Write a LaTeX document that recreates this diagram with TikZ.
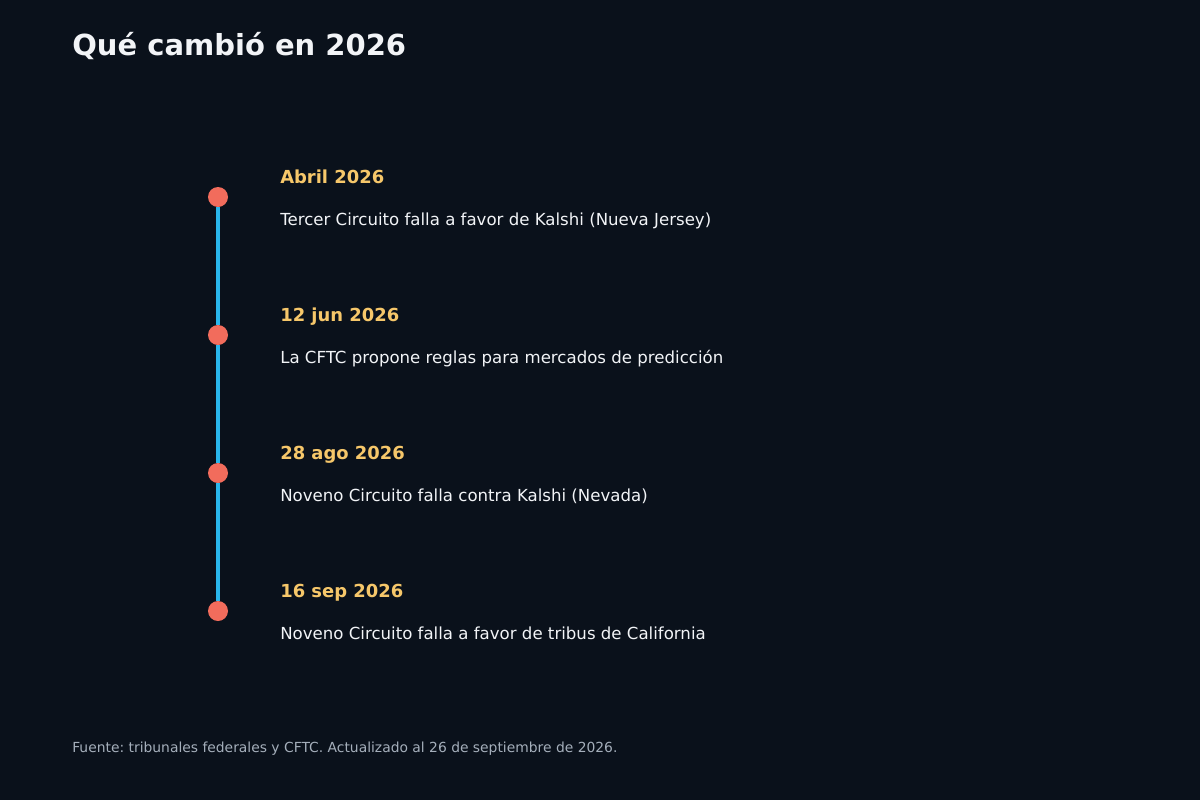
\documentclass[tikz,border=0pt]{standalone}
\usepackage{fontspec}
\setmainfont{DejaVu Sans}
\frenchspacing
\usetikzlibrary{positioning}
\definecolor{bgnavy}{RGB}{10,17,27}
\definecolor{titlewhite}{RGB}{242,244,247}
\definecolor{dategold}{RGB}{246,199,106}
\definecolor{dotsalmon}{RGB}{242,108,92}
\definecolor{linecyan}{RGB}{41,182,236}
\definecolor{notegray}{RGB}{165,175,187}

\begin{document}
\begin{tikzpicture}[x=0.75pt, y=-0.75pt,
    datelabel/.style={anchor=base west, inner sep=0pt, text=dategold, font=\fontsize{13.45}{16}\selectfont\bfseries},
    desclabel/.style={anchor=base west, inner sep=0pt, text=titlewhite, font=\fontsize{12.45}{15}\selectfont},
    eventdot/.style={circle, fill=dotsalmon, minimum size=15pt, inner sep=0pt},
    timeline/.style={linecyan, line width=2.4pt}]
        % background
        \fill[bgnavy] (0,0) rectangle (1200,800);
        \useasboundingbox (0,0) rectangle (1200,800);

        % Title
        \node[anchor=base west, inner sep=0pt, text=titlewhite, font=\fontsize{21.75}{26}\selectfont\bfseries] (title) at (72,55.5) {Qué cambió en 2026};

        % timeline dots
        \node[eventdot] (abr) at (218,197) {};
        \node[eventdot] (jun) at (218,335) {};
        \node[eventdot] (ago) at (218,473) {};
        \node[eventdot] (sep) at (218,611) {};

        % timeline line
        \draw[timeline] (abr) -- (jun);
        \draw[timeline] (jun) -- (ago);
        \draw[timeline] (ago) -- (sep);

        % dates and events
        \node[datelabel] (abrdate) at (280,183.5) {Abril 2026};
        \node[desclabel] (abrtext) at (280,225) {Tercer Circuito falla a favor de Kalshi (Nueva Jersey)};

        \node[datelabel] (jundate) at (280,321.5) {12 jun 2026};
        \node[desclabel] (juntext) at (280,363) {La CFTC propone reglas para mercados de predicción};

        \node[datelabel] (agodate) at (280,459.5) {28 ago 2026};
        \node[desclabel] (agotext) at (280,501) {Noveno Circuito falla contra Kalshi (Nevada)};

        \node[datelabel] (sepdate) at (280,597.5) {16 sep 2026};
        \node[desclabel] (septext) at (280,639) {Noveno Circuito falla a favor de tribus de California};

        % source note
        \node[anchor=base west, inner sep=0pt, text=notegray, font=\fontsize{10.4}{12}\selectfont] (note) at (72,752) {Fuente: tribunales federales y CFTC. Actualizado al 26 de septiembre de 2026.};
    \end{tikzpicture}
\end{document}
